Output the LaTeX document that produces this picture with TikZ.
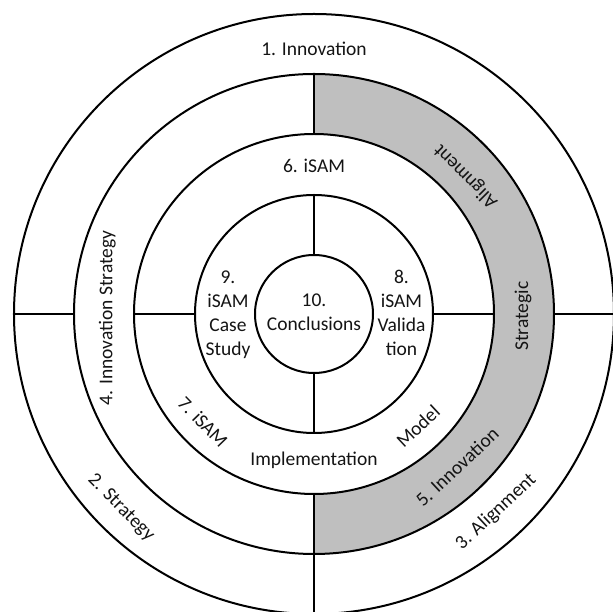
\documentclass[tikz,border=0pt]{standalone}
\usepackage{fontspec}
\setmainfont{Carlito}
\begin{document}
\begin{tikzpicture}[x=1pt,y=1pt,
  ring/.style={line width=2pt, draw=black},
  spoke/.style={line width=2pt, draw=black},
  lbl/.style={font=\fontsize{19.5}{24}\selectfont, text=black!92, inner sep=0pt, align=center},
]
\definecolor{bandgray}{RGB}{191,191,191}
\useasboundingbox (-314,-298) rectangle (299,314);
\clip (-314,-298) rectangle (299,314);
\fill[white] (-314,-298) rectangle (299,314);

% shaded right half of the second ring
\fill[bandgray] (90:240) arc[start angle=90,end angle=-90,radius=240]
  -- (-90:180) arc[start angle=-90,end angle=90,radius=180] -- cycle;

% concentric rings
\foreach \r in {300,240,180,119,59} \draw[ring] (0,0) circle[radius=\r];

% radial dividers
\coordinate (u1) at (90:59);  \coordinate (u2) at (90:119);
\coordinate (u3) at (90:180); \coordinate (u4) at (90:240);
\coordinate (d1) at (-90:59); \coordinate (d2) at (-90:119);
\coordinate (d3) at (-90:180); \coordinate (d4) at (-90:300);
\coordinate (l1) at (180:119); \coordinate (l2) at (180:180);
\coordinate (l3) at (180:240); \coordinate (l4) at (180:300);
\coordinate (r1) at (0:119);  \coordinate (r2) at (0:180);
\coordinate (r3) at (0:240);  \coordinate (r4) at (0:300);
\draw[spoke] (u1) -- (u2);
\draw[spoke] (u3) -- (u4);
\draw[spoke] (d1) -- (d2);
\draw[spoke] (d3) -- (d4);
\draw[spoke] (l1) -- (l2);
\draw[spoke] (l3) -- (l4);
\draw[spoke] (r1) -- (r2);
\draw[spoke] (r3) -- (r4);

% labels
\node[lbl] (t1) at (0,265) {1. Innovation};
\node[lbl] (t2) at (-193,-194) [rotate=-45] {2. Strategy};
\node[lbl] (t3) at (182,-198) [rotate=43] {3. Alignment};
\node[lbl] (t4) at (-206.6,-4) [rotate=90] {4. Innovation Strategy};
\node[lbl] (t5a) at (143,-153) [rotate=43] {5. Innovation};
\node[lbl] (t5b) at (209,-2) [rotate=90] {Strategic};
\node[lbl] (t5c) at (152,138) [rotate=135] {Alignment};
\node[lbl] (t6) at (0,148) {6. iSAM};
\node[lbl] (t7a) at (-111,-108) [rotate=-46] {7. iSAM};
\node[lbl] (t7b) at (0,-146) {Implementation};
\node[lbl] (t7c) at (104,-112) [rotate=43] {Model};
\node[lbl] (t8) at (87.5,1) {8.\\iSAM\\Valida\\tion};
\node[lbl] (t9) at (-86,-1) {9.\\iSAM\\Case\\Study};
\node[lbl] (t10) at (0,2) {10.\\Conclusions};
\end{tikzpicture}
\end{document}
